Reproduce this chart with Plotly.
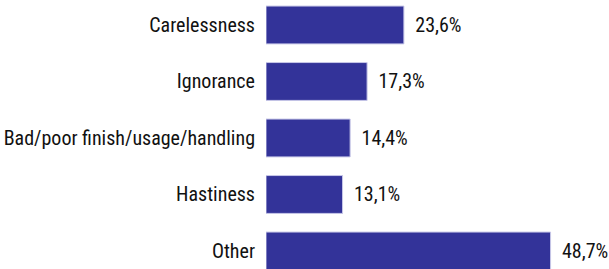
import plotly.graph_objects as go

categories = ["Carelessness", "Ignorance", "Bad/poor finish/usage/handling", "Hastiness", "Other"]
values = [23.6, 17.3, 14.4, 13.1, 48.7]
labels = ["\u00a0\u2009" + f"{v:.1f}".replace(".", ",") + "%" for v in values]

FONT = "Roboto Condensed, Liberation Sans Narrow, Arial Narrow, sans-serif"

fig = go.Figure(go.Bar(
    x=values, y=categories, orientation="h",
    marker=dict(color="#333399", line=dict(color="#c8c8e8", width=1)),
    text=labels, textposition="outside", cliponaxis=False,
    textfont=dict(family=FONT, size=20, color="#111111"),
))
fig.update_layout(
    width=609, height=269,
    margin=dict(l=266, r=0, t=0, b=0, autoexpand=False),
    paper_bgcolor="white", plot_bgcolor="white",
    bargap=0.33, showlegend=False,
    font=dict(family=FONT, size=20, color="#111111"),
)
fig.update_xaxes(range=[0, 58.7], visible=False, automargin=False)
fig.update_yaxes(type="category", categoryorder="array", categoryarray=categories,
                 range=[4.319, -0.442], showgrid=False, zeroline=False, showline=False,
                 ticks="", ticklabelstandoff=10, automargin=False,
                 tickfont=dict(family=FONT, size=20, color="#111111"))
fig.write_html("out.html", config={"displayModeBar": False},
               post_script="document.body.style.margin='0';document.body.style.overflow='hidden';")
